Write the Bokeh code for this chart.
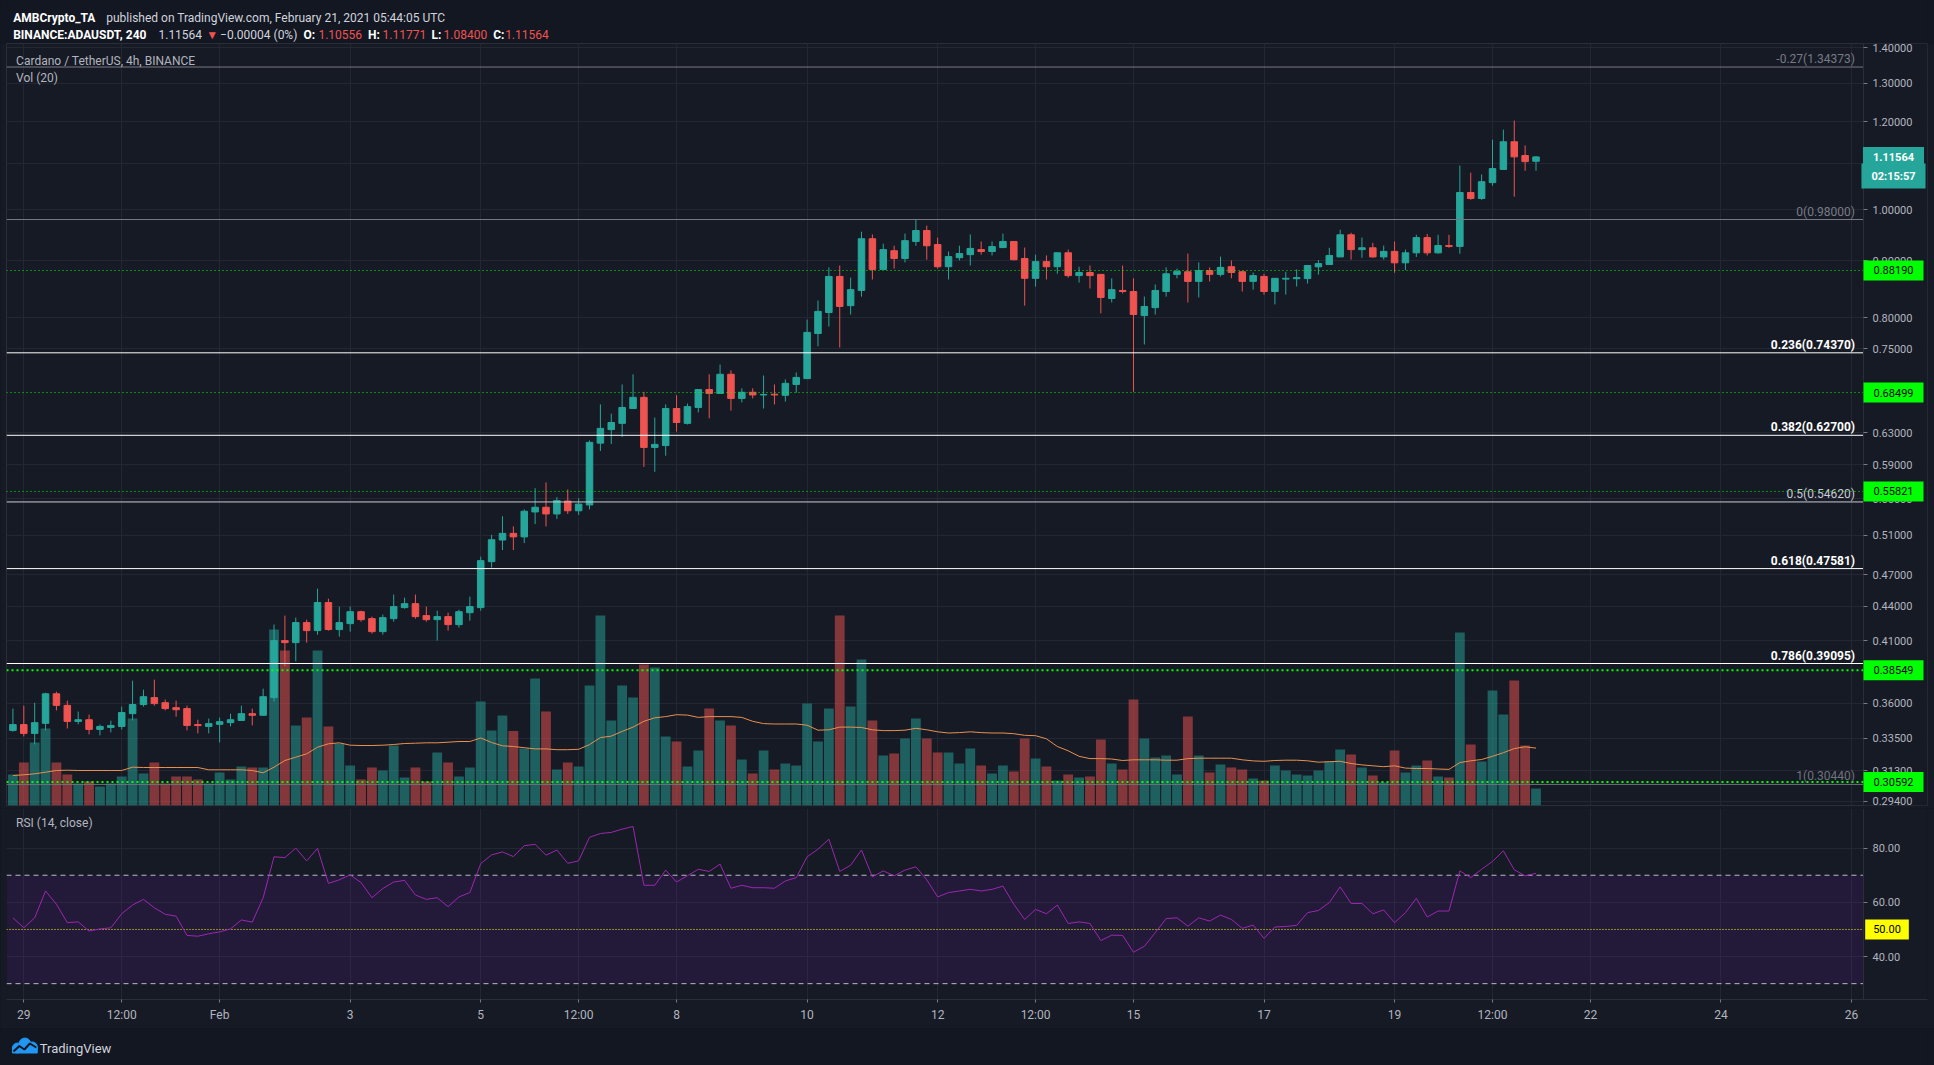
import numpy as np
import pandas as pd
from bokeh.plotting import figure
from bokeh.layouts import column
from bokeh.models import (ColumnDataSource, Range1d, LinearScale, FixedTicker,
                          PrintfTickFormatter, Grid, Label, BoxAnnotation)
from bokeh.embed import file_html
from bokeh.resources import INLINE

FONT = "Roboto"

# ---------------- data ----------------
opens = [0.3404, 0.3445, 0.3383, 0.3454, 0.3672, 0.3585, 0.3468, 0.3480, 0.3411, 0.3425,
         0.3432, 0.3524, 0.3591, 0.3643, 0.3605, 0.3568, 0.3561, 0.3445, 0.3432, 0.3447,
         0.3459, 0.3475, 0.3524, 0.3512, 0.3643, 0.4099, 0.4082, 0.4255, 0.4185, 0.4435,
         0.4194, 0.4246, 0.4352, 0.4290, 0.4176, 0.4290, 0.4389, 0.4425, 0.4317, 0.4281,
         0.4308, 0.4237, 0.4343, 0.4389, 0.4827, 0.5048, 0.5118, 0.5081, 0.5350, 0.5402,
         0.5328, 0.5472, 0.5363, 0.5428, 0.6169, 0.6344, 0.6427, 0.6627, 0.6782, 0.6114,
         0.6138, 0.6627, 0.6427, 0.6642, 0.6893, 0.6837, 0.7114, 0.6767, 0.6854, 0.6816,
         0.6826, 0.6811, 0.6966, 0.7050, 0.7740, 0.8084, 0.8711, 0.8200, 0.8462, 0.9418,
         0.8838, 0.9187, 0.9040, 0.9365, 0.9579, 0.9305, 0.8888, 0.9055, 0.9113, 0.9208,
         0.9172, 0.9247, 0.9365, 0.9040, 0.8677, 0.8982, 0.8888, 0.9148, 0.8726, 0.8782,
         0.8748, 0.8322, 0.8462, 0.8443, 0.8033, 0.8166, 0.8443, 0.8748, 0.8796, 0.8622,
         0.8816, 0.8748, 0.8888, 0.8796, 0.8622, 0.8711, 0.8443, 0.8663, 0.8670, 0.8672,
         0.8886, 0.8928, 0.9070, 0.9495, 0.9208, 0.9243, 0.9070, 0.9174, 0.8960, 0.9147,
         0.9440, 0.9147, 0.9286, 0.9269, 1.0364, 1.0237, 1.0578, 1.0871, 1.1511, 1.1188,
         1.10556]
highs = [0.3561, 0.3583, 0.3605, 0.3680, 0.3688, 0.3620, 0.3539, 0.3517, 0.3445, 0.3473,
         0.3576, 0.3773, 0.3703, 0.3781, 0.3628, 0.3620, 0.3583, 0.3480, 0.3488, 0.3495,
         0.3524, 0.3583, 0.3561, 0.3711, 0.4238, 0.4317, 0.4299, 0.4281, 0.4565, 0.4471,
         0.4398, 0.4398, 0.4361, 0.4308, 0.4326, 0.4509, 0.4480, 0.4509, 0.4398, 0.4361,
         0.4343, 0.4370, 0.4490, 0.4877, 0.5104, 0.5302, 0.5192, 0.5379, 0.5619, 0.5687,
         0.5516, 0.5605, 0.5503, 0.6204, 0.6684, 0.6557, 0.6966, 0.7114, 0.6860, 0.6504,
         0.6684, 0.6811, 0.6696, 0.6900, 0.7114, 0.7258, 0.7171, 0.6910, 0.6910, 0.7096,
         0.6966, 0.7039, 0.7142, 0.7967, 0.8287, 0.8875, 0.8910, 0.8690, 0.9555, 0.9502,
         0.9321, 0.9282, 0.9519, 0.9798, 0.9678, 0.9441, 0.9172, 0.9282, 0.9502, 0.9365,
         0.9365, 0.9519, 0.9365, 0.9247, 0.9113, 0.9098, 0.9150, 0.9208, 0.8888, 0.8910,
         0.8750, 0.8677, 0.8910, 0.8677, 0.8354, 0.8567, 0.8875, 0.8853, 0.9133, 0.8967,
         0.8875, 0.9076, 0.9003, 0.8816, 0.8782, 0.8759, 0.8680, 0.8796, 0.8838, 0.8920,
         0.9012, 0.9243, 0.9595, 0.9535, 0.9440, 0.9338, 0.9286, 0.9363, 0.9208, 0.9495,
         0.9512, 0.9495, 0.9495, 1.0959, 1.0799, 1.0758, 1.1563, 1.1803, 1.2028, 1.1424,
         1.11771]
lows = [0.3395, 0.3362, 0.3307, 0.3404, 0.3548, 0.3418, 0.3447, 0.3376, 0.3369, 0.3390,
        0.3411, 0.3475, 0.3576, 0.3583, 0.3548, 0.3502, 0.3404, 0.3383, 0.3383, 0.3320,
        0.3432, 0.3473, 0.3439, 0.3510, 0.3615, 0.3887, 0.3927, 0.4082, 0.4150, 0.4185,
        0.4133, 0.4176, 0.4263, 0.4159, 0.4150, 0.4263, 0.4380, 0.4290, 0.4263, 0.4099,
        0.4185, 0.4211, 0.4272, 0.4361, 0.4768, 0.4944, 0.4944, 0.5016, 0.5217, 0.5192,
        0.5273, 0.5328, 0.5316, 0.5379, 0.6070, 0.6159, 0.6248, 0.6626, 0.5873, 0.5813,
        0.6011, 0.6318, 0.6411, 0.6574, 0.6495, 0.6835, 0.6599, 0.6712, 0.6767, 0.6627,
        0.6684, 0.6723, 0.6848, 0.7050, 0.7538, 0.7853, 0.7519, 0.8051, 0.8354, 0.8656,
        0.8834, 0.8853, 0.8967, 0.9282, 0.9018, 0.8853, 0.8656, 0.9003, 0.8910, 0.9113,
        0.9098, 0.9240, 0.9003, 0.8200, 0.8531, 0.8656, 0.8759, 0.8690, 0.8601, 0.8497,
        0.8071, 0.8254, 0.8408, 0.6860, 0.7566, 0.8051, 0.8354, 0.8677, 0.8254, 0.8340,
        0.8622, 0.8711, 0.8677, 0.8443, 0.8476, 0.8389, 0.8221, 0.8389, 0.8531, 0.8583,
        0.8743, 0.8926, 0.9070, 0.9020, 0.9053, 0.9053, 0.9020, 0.8778, 0.8827, 0.9070,
        0.9097, 0.9130, 0.9243, 0.9130, 1.0208, 1.0208, 1.0511, 1.1500, 1.0276, 1.0840,
        1.08400]
closes = [0.3445, 0.3383, 0.3459, 0.3672, 0.3585, 0.3468, 0.3480, 0.3411, 0.3432, 0.3439,
          0.3532, 0.3591, 0.3650, 0.3598, 0.3561, 0.3553, 0.3439, 0.3438, 0.3452, 0.3466,
          0.3480, 0.3524, 0.3512, 0.3650, 0.4099, 0.4082, 0.4255, 0.4185, 0.4435, 0.4194,
          0.4255, 0.4352, 0.4281, 0.4176, 0.4299, 0.4398, 0.4425, 0.4308, 0.4281, 0.4308,
          0.4237, 0.4352, 0.4398, 0.4837, 0.5051, 0.5118, 0.5081, 0.5358, 0.5402, 0.5328,
          0.5477, 0.5363, 0.5437, 0.6179, 0.6360, 0.6438, 0.6642, 0.6782, 0.6114, 0.6153,
          0.6627, 0.6438, 0.6653, 0.6893, 0.6837, 0.7114, 0.6767, 0.6854, 0.6816, 0.6822,
          0.6816, 0.6982, 0.7068, 0.7758, 0.8103, 0.8711, 0.8186, 0.8476, 0.9418, 0.8838,
          0.9208, 0.9040, 0.9381, 0.9579, 0.9282, 0.8888, 0.9076, 0.9133, 0.9231, 0.9172,
          0.9266, 0.9365, 0.9018, 0.8677, 0.8982, 0.8888, 0.9148, 0.8726, 0.8782, 0.8726,
          0.8340, 0.8476, 0.8443, 0.8051, 0.8186, 0.8462, 0.8759, 0.8803, 0.8622, 0.8816,
          0.8748, 0.8875, 0.8782, 0.8622, 0.8726, 0.8443, 0.8677, 0.8677, 0.8690, 0.8910,
          0.8945, 0.9097, 0.9495, 0.9208, 0.9243, 0.9070, 0.9174, 0.8960, 0.9147, 0.9440,
          0.9147, 0.9286, 0.9269, 1.0364, 1.0237, 1.0598, 1.0890, 1.1511, 1.1157, 1.1048,
          1.11564]
volumes = [31, 43, 63, 77, 43, 31, 22, 24, 19, 22, 29, 87, 32, 43, 22, 29, 29, 26, 22, 33,
           26, 39, 38, 38, 176, 155, 80, 88, 155, 79, 62, 40, 26, 38, 35, 60, 28, 38, 24, 53,
           43, 29, 38, 104, 75, 90, 74.5, 57, 127, 94, 36, 43, 39, 120, 190, 85, 120, 108, 141, 138,
           69, 64, 39, 55, 97, 85, 80, 46, 32, 55, 36, 42, 40, 102, 64, 97, 190, 99, 146, 85,
           50, 52, 67, 87, 67, 53, 53, 42, 57, 40, 32, 40, 34, 67, 47, 39, 25, 31, 28, 29,
           66, 42, 36, 106, 67, 48, 50, 31, 89, 50, 33, 41, 38, 36, 27, 25, 40, 35, 31, 30,
           35, 44, 56, 51, 38, 30, 23, 55, 33, 40, 45, 29, 28, 173, 61, 44, 115, 91, 125, 60,
           17]
vol_ma = [30, 30.7, 31.7, 33.3, 35, 35.3, 35, 35, 35, 35, 35, 38.3, 38, 38, 38, 38, 38, 38, 35.7, 35.7,
          35.7, 35.7, 35, 32.7, 38.3, 45, 48.3, 51.7, 58.3, 61.7, 62.7, 60.3, 60, 60, 60.3, 61, 62, 62.3, 62.7, 62.7,
          63.3, 64, 64, 67.5, 63, 59.7, 59, 57.8, 56.6, 56.6, 55.8, 55.8, 56.2, 60.9, 67.9, 69.4, 74.1, 78.4, 84.2, 87.7,
          88.9, 90.8, 90.4, 88.1, 88.9, 88.9, 88.9, 88.1, 84.2, 81.9, 81.5, 81.5, 81.5, 80.3, 75.3, 75.7, 78.4, 78.4, 78, 75.7,
          74.9, 74.9, 75.3, 77.2, 75.7, 73.7, 72.5, 72.9, 73.7, 72.9, 72.5, 72.5, 71.8, 70.2, 69.8, 66.7, 59, 54.7, 49.2, 46.9,
          46.9, 46.5, 45, 45.7, 45.7, 45.7, 45.3, 45.3, 46.9, 47.3, 47.3, 47.3, 47.3, 45.7, 44.6, 44.2, 45, 45.3, 45.3, 44.7,
          43.3, 43.8, 44.2, 42, 40.6, 39.7, 38.8, 39.7, 37.4, 37, 37, 36.5, 36.1, 42.9, 44.7, 46, 49.2, 52.8, 56.9, 58.7,
          57.4]
rsi = [54.3, 50.6, 54.3, 64.2, 59.3, 52.5, 52.8, 49.4, 50.2, 50.6,
       55.8, 59.0, 61.1, 58.0, 55.6, 54.9, 47.8, 47.5, 48.4, 49.1,
       50.2, 53.5, 52.7, 61.7, 76.8, 76.5, 80.0, 75.3, 79.9, 67.0,
       68.3, 70.1, 67.3, 61.7, 65.1, 67.5, 68.1, 62.7, 61.1, 61.7,
       58.4, 62.0, 63.6, 74.3, 77.5, 78.6, 76.9, 80.9, 81.4, 77.4,
       79.3, 74.4, 75.3, 84.0, 85.4, 85.8, 87.0, 88.0, 66.3, 66.3,
       71.9, 67.5, 69.8, 72.2, 71.4, 74.1, 65.2, 66.3, 65.4, 65.4,
       65.2, 67.9, 69.1, 76.8, 79.6, 83.3, 71.4, 73.7, 79.3, 69.4,
       71.6, 69.8, 71.9, 73.1, 68.3, 62.0, 63.6, 64.2, 64.8, 64.2,
       64.8, 66.0, 59.3, 53.7, 57.4, 55.8, 59.0, 52.2, 52.8, 52.2,
       45.9, 47.9, 47.8, 41.6, 43.8, 48.8, 54.0, 54.3, 51.2, 54.3,
       53.1, 55.3, 53.7, 50.4, 51.6, 46.7, 50.9, 51.1, 51.5, 56.2,
       57.0, 59.9, 65.7, 59.6, 59.6, 55.8, 57.2, 52.5, 56.2, 61.5,
       54.6, 56.8, 56.8, 71.6, 69.1, 72.2, 75.1, 79.0, 72.0, 69.8,
       70.7]

first_bar = "2021-01-28 20:00"
tick_times = ["2021-01-29 00:00", "2021-01-30 12:00", "2021-02-01 00:00", "2021-02-03 00:00",
              "2021-02-05 00:00", "2021-02-06 12:00", "2021-02-08 00:00", "2021-02-10 00:00",
              "2021-02-12 00:00", "2021-02-13 12:00", "2021-02-15 00:00", "2021-02-17 00:00",
              "2021-02-19 00:00", "2021-02-20 12:00", "2021-02-22 00:00", "2021-02-24 00:00",
              "2021-02-26 00:00"]
tick_labels = ["29", "12:00", "Feb", "3", "5", "12:00", "8", "10", "12", "12:00", "15", "17",
               "19", "12:00", "22", "24", "26"]
price_ticks = [1.4, 1.3, 1.2, 1.1, 1.0, 0.9, 0.8, 0.75, 0.63, 0.59, 0.55, 0.51, 0.47,
               0.44, 0.41, 0.36, 0.335, 0.313, 0.294]
rsi_ticks = [40, 60, 80]
rsi_band = [30, 70]
rsi_mid = 50

fib_ratios = ["-0.27", "0", "0.236", "0.382", "0.5", "0.618", "0.786", "1"]
fib_prices = [1.34373, 0.98000, 0.74370, 0.62700, 0.54620, 0.47581, 0.39095, 0.30440]
support_levels = [0.88190, 0.68499, 0.55821, 0.38549, 0.30592]

# ---------------- styling ----------------
BG = "#161a25"
OUT = "#131722"
GRID = "#232733"
SEP = "#2a2e39"
TXT = "#b2b5be"
UP = "#26a69a"
DN = "#ef5350"
W = 1934
LB, RB = 6, 7          # outer borders left / right of the chart frame
HOUR = 3600 * 1000.0

fib_colors = ["#787b86", "#787b86", "#ffffff", "#ffffff", "#c9cbd1", "#ffffff", "#ffffff", "#70737d"]
fib_bold = [False, False, True, True, False, True, True, False]
support_widths = [1, 1, 1, 2, 2]
support_dash = ["1 3", "1 3", "1 3", "2 3", "2 3"]

times = pd.date_range(first_bar, periods=len(opens), freq="4h")
t0 = times[0].value / 1e6
tick_ms = [int(pd.Timestamp(t).value // 10**6) for t in tick_times]
X_START = t0 - 2.36 * HOUR           # left edge of the panes
X_AXIS = t0 + 680.4 * HOUR           # where the price scale begins
X_END = t0 + 703.94 * HOUR           # right edge of the price-scale strip
xr = Range1d(start=X_START, end=X_END)

o = np.array(opens); c = np.array(closes)
colors = [UP if cc >= oo else DN for oo, cc in zip(opens, closes)]
src = ColumnDataSource(dict(t=times, o=o, h=highs, l=lows, c=c,
                            top=np.maximum(o, c), bot=np.minimum(o, c),
                            col=colors, v=volumes, vma=vol_ma))


def blank(fig):
    fig.grid.visible = False


def style_y(ax, ticks, fmt):
    ax.ticker = FixedTicker(ticks=ticks)
    ax.formatter = PrintfTickFormatter(format=fmt)
    ax.fixed_location = X_AXIS
    ax.axis_line_color = SEP
    ax.major_tick_line_color = "#787b86"
    ax.major_tick_out = 4
    ax.major_tick_in = 0
    ax.minor_tick_line_color = None
    ax.major_label_standoff = 5
    ax.major_label_text_color = TXT
    ax.major_label_text_font = FONT
    ax.major_label_text_font_size = "11px"


def tag(fig, x, y, text, bg, fg, bold=False, yunits="data", pad=(10, 6)):
    fig.add_layout(Label(x=x, y=y, x_units="screen", y_units=yunits, text=text,
                         text_align="center", text_baseline="middle", text_font=FONT,
                         text_font_size="11px", text_font_style="bold" if bold else "normal",
                         text_color=fg, background_fill_color=bg, padding=pad))


# ---------------- header ----------------
hdr = figure(width=W, height=43, x_range=Range1d(0, W), y_range=Range1d(43, 0),
             x_axis_location=None, y_axis_location=None, toolbar_location=None,
             output_backend="svg", min_border=0, background_fill_color=OUT,
             border_fill_color=OUT, outline_line_color=None)
blank(hdr)
pieces = [
    ("AMBCrypto_TA", 6.7, 17.3, "bold", "#ffffff"),
    ("published on TradingView.com, February 21, 2021 05:44:05 UTC", 100.4, 17.3, "normal", "#d1d4dc"),
    ("BINANCE:ADAUSDT, 240", 6.7, 34.3, "bold", "#ffffff"),
    ("1.11564", 153, 34.3, "normal", "#d1d4dc"),
    ("\u25bc", 201, 34.3, "normal", DN),
    ("\u22120.00004 (0%)", 215, 34.3, "normal", "#d1d4dc"),
    ("O:", 299, 34.3, "bold", "#ffffff"),
    ("1.10556", 314, 34.3, "normal", DN),
    ("H:", 364, 34.3, "bold", "#ffffff"),
    ("1.11771", 378.6, 34.3, "normal", DN),
    ("L:", 428, 34.3, "bold", "#ffffff"),
    ("1.08400", 440, 34.3, "normal", DN),
    ("C:", 490, 34.3, "bold", "#ffffff"),
    ("1.11564", 502, 34.3, "normal", DN),
]
for txt, x, y, st, colr in pieces:
    hdr.add_layout(Label(x=x, y=y, text=txt, text_font=FONT, text_font_size="12px",
                         text_font_style=st, text_color=colr, text_baseline="alphabetic",
                         text_align="left"))

# ---------------- price pane ----------------
Y_LO, Y_HI = 0.29139, 1.41076
pf = figure(width=W, height=765, x_range=xr, y_range=Range1d(Y_LO, Y_HI),
            x_axis_type="datetime", y_axis_type="log", x_axis_location=None,
            y_axis_location="right", output_backend="svg", toolbar_location=None,
            min_border_left=LB, min_border_right=RB, min_border_top=0, min_border_bottom=3,
            background_fill_color=BG, border_fill_color=BG, outline_line_color=SEP)
blank(pf)
pf.add_layout(Grid(dimension=0, ticker=FixedTicker(ticks=tick_ms), grid_line_color=GRID))
pf.add_layout(Grid(dimension=1, ticker=FixedTicker(ticks=price_ticks), grid_line_color=GRID))
pf.extra_y_ranges = {"vol": Range1d(0, 762)}
pf.extra_y_scales = {"vol": LinearScale()}
style_y(pf.yaxis[0], price_ticks, "%.5f")

pf.vbar(x="t", top="v", bottom=0, width=0.9 * 4 * HOUR, fill_color="col", fill_alpha=0.5,
        line_color=None, y_range_name="vol", source=src)
pf.line(x="t", y="vma", color="#e8904f", line_width=1, y_range_name="vol", source=src)
pf.segment(x0="t", y0="h", x1="t", y1="l", color="col", line_width=1, source=src)
pf.vbar(x="t", top="top", bottom="bot", width=0.6 * 4 * HOUR, fill_color="col",
        line_color="col", line_width=1, source=src)

nf = len(fib_prices)
pf.segment(x0=[X_START] * nf, y0=fib_prices, x1=[X_AXIS] * nf, y1=fib_prices,
           line_color=fib_colors, line_width=1)
for lv, lw, ld in zip(support_levels, support_widths, support_dash):
    pf.segment(x0=[X_START], y0=[lv], x1=[X_AXIS], y1=[lv], line_color="#00ff00",
               line_width=lw, line_dash=ld)
# price-scale strip background (keeps grid out of the scale area)
pf.quad(left=[X_AXIS], right=[X_END], bottom=[Y_LO], top=[Y_HI], fill_color=BG, line_color=None)

for r, pr, colr, bd in zip(fib_ratios, fib_prices, fib_colors, fib_bold):
    pf.add_layout(Label(x=1848.5, y=pr, x_units="screen", text=f"{r}({pr:.5f})",
                        text_align="right", text_baseline="bottom", y_offset=1,
                        text_font=FONT, text_font_size="12px",
                        text_font_style="bold" if bd else "normal", text_color=colr))

for lv in support_levels:
    tag(pf, 1887, lv, f"{lv:.5f}", "#00ff00", "#000000")
tag(pf, 1887, closes[-1], f"{closes[-1]:.5f}", UP, "#ffffff", bold=True)
tag(pf, 1887, 629.4, "02:15:57", UP, "#ffffff", bold=True, yunits="screen")

pf.add_layout(Label(x=9.6, y=744.3, x_units="screen", y_units="screen",
                    text="Cardano / TetherUS, 4h, BINANCE", text_baseline="middle",
                    text_font=FONT, text_font_size="12px", text_color=TXT))
pf.add_layout(Label(x=9.6, y=727.7, x_units="screen", y_units="screen",
                    text="Vol (20)", text_baseline="middle",
                    text_font=FONT, text_font_size="12px", text_color=TXT))

# ---------------- RSI pane ----------------
R_LO, R_HI = 24.16, 94.62
rf = figure(width=W, height=220, x_range=xr, y_range=Range1d(R_LO, R_HI),
            x_axis_type="datetime", y_axis_location="right", output_backend="svg",
            toolbar_location=None, min_border_left=LB, min_border_right=RB,
            min_border_top=0, min_border_bottom=29,
            background_fill_color=BG, border_fill_color=BG, outline_line_color=None)
blank(rf)
rf.add_layout(Grid(dimension=0, ticker=FixedTicker(ticks=tick_ms), grid_line_color=GRID))
rf.add_layout(Grid(dimension=1, ticker=FixedTicker(ticks=rsi_ticks), grid_line_color=GRID))
rf.add_layout(BoxAnnotation(bottom=rsi_band[0], top=rsi_band[1], right=X_AXIS,
                            fill_color="#731ab1", fill_alpha=0.15,
                            line_color=None, level="underlay"))
rf.segment(x0=[X_START] * 2, y0=rsi_band, x1=[X_AXIS] * 2, y1=rsi_band,
           line_color="#b8bbc4", line_width=1, line_dash="5 4")
rf.segment(x0=[X_START], y0=[rsi_mid], x1=[X_AXIS], y1=[rsi_mid],
           line_color="#ffff00", line_width=1, line_dash="1 2")
rf.line(times, rsi, color="#9c27b0", line_width=1)
rf.quad(left=[X_AXIS], right=[X_END], bottom=[R_LO], top=[R_HI], fill_color=BG, line_color=None)

xa = rf.xaxis[0]
xa.ticker = FixedTicker(ticks=tick_ms)
xa.major_label_overrides = {ms: lab for ms, lab in zip(tick_ms, tick_labels)}
xa.axis_line_color = SEP
xa.major_tick_line_color = "#787b86"
xa.major_tick_out = 3
xa.major_tick_in = 0
xa.minor_tick_line_color = None
xa.major_label_standoff = 5
xa.major_label_text_color = TXT
xa.major_label_text_font = FONT
xa.major_label_text_font_size = "12px"

style_y(rf.yaxis[0], rsi_ticks, "%.2f")

tag(rf, 1880.5, rsi_mid, f"{rsi_mid:.2f}", "#ffff00", "#000000", pad=(8, 6))
rf.add_layout(Label(x=9.6, y=176.6, x_units="screen", y_units="screen",
                    text="RSI (14, close)", text_baseline="middle",
                    text_font=FONT, text_font_size="12px", text_color=TXT))

# ---------------- footer ----------------
ftr = figure(width=W, height=37, x_range=Range1d(0, W), y_range=Range1d(37, 0),
             x_axis_location=None, y_axis_location=None, toolbar_location=None,
             output_backend="svg", min_border=0, background_fill_color=OUT,
             border_fill_color=OUT, outline_line_color=None)
blank(ftr)
ftr.circle(x=[11, 18.5, 26], y=[19.5, 15.5, 18.5], radius=[5, 6, 5], color="#2196f3")
ftr.quad(left=[6], right=[31], top=[18.5], bottom=[24.5], color="#2196f3")
ftr.line(x=[7, 13, 18, 23.5, 30], y=[23, 17.5, 21, 15, 19], color=OUT, line_width=2)
ftr.add_layout(Label(x=33.5, y=19.5, text="TradingView", text_baseline="middle",
                     text_font=FONT, text_font_size="13px", text_color="#d1d4dc"))

layout = column(hdr, pf, rf, ftr, spacing=0)

html = file_html(layout, INLINE, title="ADAUSDT 4h")
html = html.replace("<head>", "<head><style>html,body{background:#131722;}</style>", 1)
open("out.html", "w").write(html)
